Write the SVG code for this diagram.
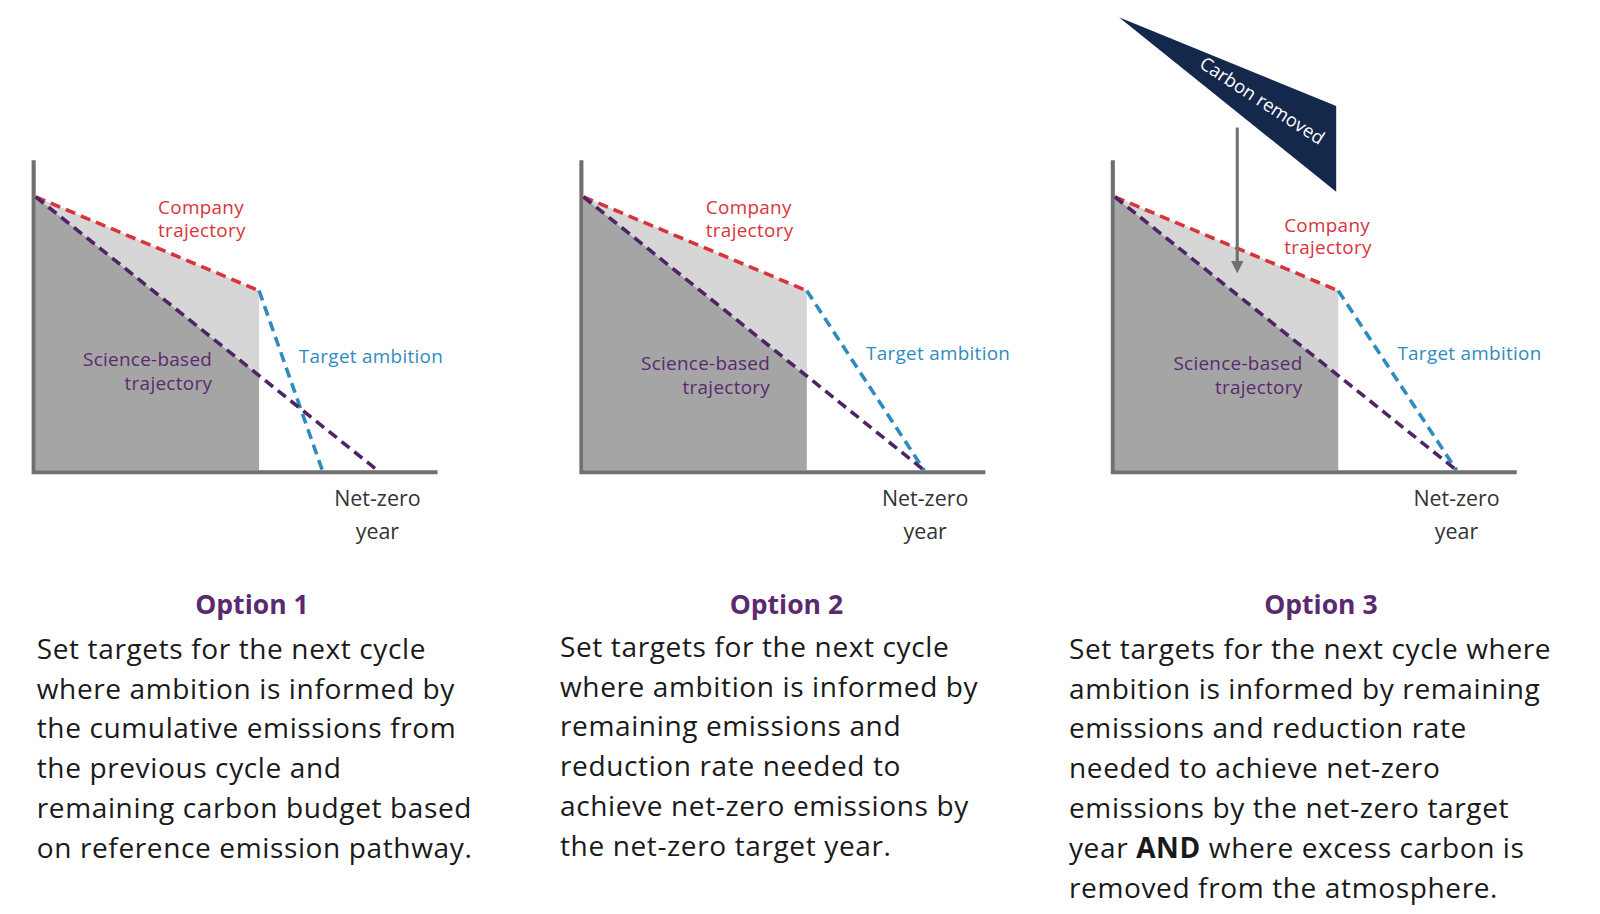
<svg xmlns="http://www.w3.org/2000/svg" width="1600" height="914" viewBox="0 0 1600 914">
<style>
.ax{stroke:#707070;stroke-width:4;fill:none}
.red{stroke:#d9343c;stroke-width:3.5;stroke-dasharray:10 6;fill:none}
.blue{stroke:#2f8bbf;stroke-width:3.5;stroke-dasharray:10 6;fill:none}
.pur{stroke:#4f2466;stroke-width:3.5;stroke-dasharray:10 6;fill:none}
.dk{fill:#a5a5a5}.lt{fill:#d6d6d6}
.l{font-family:"Open Sans","Liberation Sans",sans-serif;font-size:18.5px;letter-spacing:0.3px}
.lr{fill:#d9343c}.lb{fill:#2f8bbf}.lp{fill:#5a2a70}
.nz{font-family:"Open Sans","Liberation Sans",sans-serif;font-size:21px;fill:#333;text-anchor:middle}
.h{font-family:"Open Sans","Liberation Sans",sans-serif;font-size:26px;font-weight:bold;fill:#5a2a70;text-anchor:middle}
.b{font-family:"Open Sans","Liberation Sans",sans-serif;font-size:27.5px;letter-spacing:0.6px;fill:#1a1a1a}
</style>
<defs><marker id="ah" markerWidth="4" markerHeight="4" refX="2" refY="2" orient="auto" markerUnits="strokeWidth"><path d="M0,0 L4,2 L0,4z" fill="#707070"/></marker></defs>
<rect width="1600" height="914" fill="#fff"/>
<g transform="scale(1.02)">
<g id="chart1">
<polygon class="dk" points="35,193 254,368 254,461 35,461"/>
<polygon class="lt" points="35,193 254,285 254,368"/>
<path class="ax" d="M33,157 V463 H429"/>
<text class="l lr" x="155" y="210">Company</text><text class="l lr" x="155" y="232">trajectory</text>
<text class="l lp" x="208" y="359" text-anchor="end">Science-based</text><text class="l lp" x="208" y="382" text-anchor="end">trajectory</text>
<text class="l lb" x="293" y="356">Target ambition</text>
<text class="nz" x="370" y="496">Net-zero</text><text class="nz" x="370" y="528">year</text>
</g>
<g id="chart2">
<polygon class="dk" points="572,193 791,369 791,461 572,461"/>
<polygon class="lt" points="572,193 791,285 791,369"/>
<path class="ax" d="M570,157 V463 H966"/>
<text class="l lr" x="692" y="210">Company</text><text class="l lr" x="692" y="232">trajectory</text>
<text class="l lp" x="755" y="363" text-anchor="end">Science-based</text><text class="l lp" x="755" y="386" text-anchor="end">trajectory</text>
<text class="l lb" x="849" y="353">Target ambition</text>
<text class="nz" x="907" y="496">Net-zero</text><text class="nz" x="907" y="528">year</text>
</g>
<g id="chart3">
<polygon class="dk" points="1093,193 1312,368 1312,461 1093,461"/>
<polygon class="lt" points="1093,193 1312,285 1312,368"/>
<path class="ax" d="M1091,157 V463 H1487"/>
<text class="l lr" x="1259" y="227">Company</text><text class="l lr" x="1259" y="249">trajectory</text>
<text class="l lp" x="1277" y="363" text-anchor="end">Science-based</text><text class="l lp" x="1277" y="386" text-anchor="end">trajectory</text>
<text class="l lb" x="1370" y="353">Target ambition</text>
<text class="nz" x="1428" y="496">Net-zero</text><text class="nz" x="1428" y="528">year</text>
</g>
<g id="carbon-removed">
<polygon points="1097,17 1310,104 1310,188" fill="#14284b"/>
<text transform="translate(1234,104) rotate(33)" font-family="'Open Sans','Liberation Sans',sans-serif" font-size="18" fill="#fff" text-anchor="middle">Carbon removed</text>
</g>
<g id="connectors">
<path class="red" d="M35,193 L254,285"/><path class="blue" d="M254,285 L316,461"/><path class="pur" d="M35,193 L370,461"/>
<path class="red" d="M572,193 L791,285"/><path class="blue" d="M791,285 L906,461"/><path class="pur" d="M572,193 L906,461"/>
<path class="red" d="M1093,193 L1312,285"/><path class="blue" d="M1312,285 L1428,461"/><path class="pur" d="M1093,193 L1428,461"/>
<path d="M1213,125 V262" stroke="#707070" stroke-width="3" marker-end="url(#ah)"/>
</g>
<g id="option1">
<text class="h" x="247" y="602">Option 1</text>
<text class="b" x="36"><tspan x="36" y="646">Set targets for the next cycle</tspan><tspan x="36" y="685">where ambition is informed by</tspan><tspan x="36" y="724">the cumulative emissions from</tspan><tspan x="36" y="763">the previous cycle and</tspan><tspan x="36" y="802">remaining carbon budget based</tspan><tspan x="36" y="841">on reference emission pathway.</tspan></text>
</g>
<g id="option2">
<text class="h" x="771" y="602">Option 2</text>
<text class="b"><tspan x="549" y="644">Set targets for the next cycle</tspan><tspan x="549" y="683">where ambition is informed by</tspan><tspan x="549" y="722">remaining emissions and</tspan><tspan x="549" y="761">reduction rate needed to</tspan><tspan x="549" y="800">achieve net-zero emissions by</tspan><tspan x="549" y="839">the net-zero target year.</tspan></text>
</g>
<g id="option3">
<text class="h" x="1295" y="602">Option 3</text>
<text class="b"><tspan x="1048" y="646">Set targets for the next cycle where</tspan><tspan x="1048" y="685">ambition is informed by remaining</tspan><tspan x="1048" y="724">emissions and reduction rate</tspan><tspan x="1048" y="763">needed to achieve net-zero</tspan><tspan x="1048" y="802">emissions by the net-zero target</tspan><tspan x="1048" y="841">year <tspan font-weight="bold">AND</tspan> where excess carbon is</tspan><tspan x="1048" y="880">removed from the atmosphere.</tspan></text>
</g>
</g>
</svg>
